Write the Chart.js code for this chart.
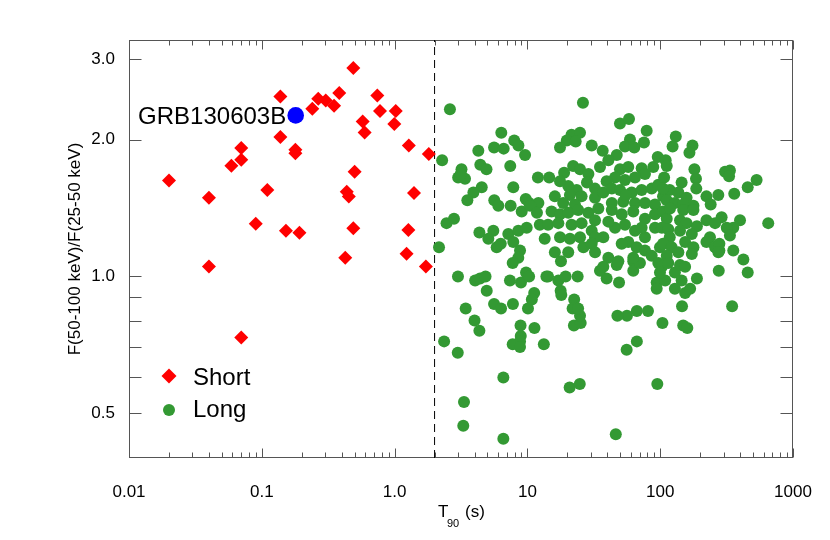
<!DOCTYPE html>
<html>
<head>
<meta charset="utf-8">
<script src="https://cdn.jsdelivr.net/npm/chart.js@4.4.1/dist/chart.umd.min.js"></script>
<style>
  html, body { margin: 0; padding: 0; background: #fff; }
</style>
</head>
<body>
<canvas id="graf" width="830" height="540"></canvas>
<script>
// short bursts (red diamonds)
const shortT90 = [0.02, 0.04, 0.04, 0.059, 0.07, 0.07, 0.07, 0.09, 0.11, 0.138,
  0.138, 0.152, 0.179, 0.179, 0.192, 0.24, 0.266, 0.303, 0.35, 0.383,
  0.489, 0.50, 0.436, 0.452, 0.489, 0.425, 0.575, 0.595, 0.741, 0.776,
  1.02, 0.995, 1.28, 1.81, 1.40, 1.27, 1.23, 1.72];
const shortRatio = [1.625, 1.49, 1.052, 1.751, 1.805, 1.915, 0.734, 1.306, 1.549, 2.486,
  2.025, 1.26, 1.899, 1.867, 1.247, 2.337, 2.458, 2.437, 2.372, 2.53,
  2.871, 1.70, 1.535, 1.499, 1.277, 1.099, 2.192, 2.073, 2.50, 2.31,
  2.31, 2.163, 1.94, 1.858, 1.525, 1.266, 1.122, 1.052];

// long bursts (green circles)
const longT90 = [2.61, 26.2, 49.8, 58.2, 79.1, 6.36, 21.5, 24.9, 19.8, 23.1,
  17.6, 30.5, 36.9, 59.2, 75.5, 54.3, 63.8, 47.1, 40.7, 131,
  124, 175, 166, 95.8, 110, 5.61, 6.63, 7.96, 8.56, 9.6,
  4.27, 2.28, 4.42, 4.92, 7.43, 3.19, 3.01, 3.39, 3.15, 4.53,
  3.92, 3.53, 7.83, 12.0, 14.6, 5.63, 6.04, 7.48, 9.72, 10.3,
  12.1, 35.2, 22.1, 24.9, 18.9, 49.8, 57.5, 72.5, 88.7, 76.8,
  64.6, 54.3, 45.7, 39.5, 28.8, 28.1, 23.5, 20.3, 17.6, 20.9,
  25.6, 32.3, 32.3, 37.3, 43.2, 49.8, 61.0, 72.5, 86.3, 96.8,
  105, 52.7, 64.6, 76.8, 91.4, 43.2, 22.8, 18.6, 16.1, 112,
  181, 186, 187, 308, 335, 330, 532, 456, 107, 145,
  118, 105, 137, 158, 274, 223, 240, 112, 129, 178,
  149, 361, 290, 399, 355, 317, 651, 2.46, 2.80, 2.16,
  4.35, 5.54, 5.08, 5.87, 6.30, 7.18, 7.83, 8.54, 9.88, 8.8,
  8.54, 7.75, 9.06, 10.5, 11.8, 12.4, 13.5, 3.0, 4.04, 4.40,
  4.84, 4.94, 7.39, 8.95, 9.77, 10.3, 13.9, 11.25, 10.8, 10.1,
  5.61, 6.33, 7.78, 3.43, 4.0, 4.35, 8.88, 11.3, 2.36, 2.99,
  6.59, 3.33, 3.29, 6.59, 8.91, 8.8, 7.75, 8.8, 13.3, 22.4,
  25.2, 20.8, 24.8, 55.9, 66.7, 46.3, 95.1, 104, 149, 160,
  276, 456, 348, 423, 355, 279, 189, 146, 129, 145,
  129, 154, 168, 94.1, 94.1, 109, 80.9, 66.7, 56.2, 47.6,
  49.0, 39.5, 35.2, 47.1, 62.7, 62.7, 70.4, 24.9, 22.5, 21.9,
  17.8, 18.0, 17.1, 19.4, 23.9, 15.2, 17.6, 20.3, 24.1, 28.8,
  34.2, 43.2, 51.3, 62.7, 76.8, 91.4, 105, 14.3, 17.1, 21.5,
  25.6, 30.5, 37.3, 45.7, 54.3, 64.6, 76.8, 91.4, 17.6, 20.9,
  24.9, 32.3, 57.5, 66.5, 76.8, 99.6, 16.1, 20.3, 26.4, 32.3,
  40.7, 37.3, 62.7, 86.3, 96.8, 17.9, 14.3, 24.1, 149, 178,
  141, 112, 103, 115, 158, 189, 223, 259, 335, 237,
  173, 154, 118, 105, 122, 178, 223, 259, 137, 112,
  103, 115, 141, 173, 154, 99.6, 279, 55.0, 118.5, 32.3,
  40.7, 72.5, 141, 30.5, 51.3, 48.4, 274];
const longRatio = [2.33, 2.41, 2.17, 2.22, 2.09, 2.07, 2.05, 2.07, 1.99, 1.98,
  1.92, 1.94, 1.89, 2.00, 1.97, 1.93, 1.92, 1.85, 1.80, 2.03,
  1.93, 1.94, 1.87, 1.83, 1.80, 1.92, 1.91, 1.99, 1.94, 1.85,
  1.89, 1.80, 1.76, 1.72, 1.75, 1.72, 1.65, 1.64, 1.68, 1.57,
  1.53, 1.47, 1.57, 1.65, 1.65, 1.47, 1.43, 1.43, 1.48, 1.45,
  1.45, 1.74, 1.75, 1.72, 1.69, 1.72, 1.74, 1.73, 1.74, 1.68,
  1.65, 1.63, 1.65, 1.62, 1.68, 1.61, 1.55, 1.58, 1.62, 1.51,
  1.50, 1.56, 1.49, 1.53, 1.56, 1.55, 1.53, 1.55, 1.56, 1.59,
  1.50, 1.46, 1.45, 1.45, 1.44, 1.45, 1.44, 1.45, 1.50, 1.75,
  1.72, 1.64, 1.56, 1.70, 1.71, 1.66, 1.63, 1.57, 1.65, 1.61,
  1.55, 1.56, 1.53, 1.49, 1.51, 1.50, 1.44, 1.47, 1.45, 1.43,
  1.44, 1.52, 1.35, 1.33, 1.28, 1.28, 1.31, 1.31, 1.34, 1.16,
  1.25, 1.26, 1.21, 1.16, 1.18, 1.24, 1.19, 1.26, 1.28, 1.14,
  1.10, 1.07, 1.39, 1.43, 1.38, 1.30, 1.21, 1.00, 0.98, 0.99,
  1.00, 0.93, 0.98, 0.97, 1.02, 1.00, 1.00, 0.92, 0.89, 0.85,
  0.87, 0.85, 0.87, 0.85, 0.80, 0.76, 0.78, 0.77, 0.72, 0.68,
  0.60, 0.53, 0.47, 0.44, 0.74, 0.72, 0.71, 0.70, 0.71, 0.78,
  0.79, 0.57, 0.58, 0.69, 0.72, 0.45, 0.58, 0.79, 0.78, 0.77,
  1.03, 1.02, 0.86, 1.09, 1.14, 1.14, 0.99, 0.86, 1.02, 0.98,
  0.94, 0.92, 0.94, 0.97, 0.94, 0.98, 0.84, 0.84, 0.82, 0.82,
  0.97, 0.99, 1.03, 1.06, 1.08, 1.03, 1.07, 0.82, 0.89, 0.85,
  0.93, 0.91, 0.98, 1.00, 1.00, 1.39, 1.37, 1.38, 1.40, 1.38,
  1.41, 1.40, 1.37, 1.39, 1.34, 1.37, 1.39, 1.30, 1.31, 1.30,
  1.31, 1.26, 1.22, 1.28, 1.30, 1.26, 1.22, 1.28, 1.22, 1.21,
  1.22, 1.22, 1.19, 1.16, 1.14, 1.16, 1.13, 1.13, 1.16, 1.13,
  1.10, 1.05, 1.10, 1.11, 1.07, 1.08, 1.00, 0.85, 1.40, 1.40,
  1.33, 1.34, 1.28, 1.27, 1.31, 1.29, 1.33, 1.31, 1.23, 1.22,
  1.24, 1.19, 1.22, 1.18, 1.16, 1.16, 1.19, 1.16, 1.13, 1.11,
  1.05, 1.07, 1.06, 1.12, 1.05, 1.02, 1.18, 1.51, 1.41, 1.33,
  1.32, 1.28, 1.26, 1.18, 1.18, 1.08, 1.13];

// the highlighted burst
const grbName = 'GRB130603B';
const grbT90 = [0.18];
const grbRatio = [2.26];

// short / long divide
const t90Cut = 2;

const xTicks = [0.01, 0.1, 1, 10, 100, 1000];
const xTickLabels = ['0.01', '0.1', '1.0', '10', '100', '1000'];
const yTicks = [0.5, 1, 2, 3];
const yTickLabels = ['0.5', '1.0', '2.0', '3.0'];
const yMinorTicks = [0.6, 0.7, 0.8, 0.9];
const yMin = 0.399, yMax = 3.31;

const FONT = "'Liberation Sans', Arial, Helvetica, sans-serif";
const RED = '#ff0000';
const GREEN = '#339933';
const BLUE = '#0000ff';
const AXIS = '#555555';

const toPts = (xs, ys) => xs.map((x, i) => ({ x: x, y: ys[i] }));

// IDL style box: inward ticks on all four sides, legend, titles
const boxPlugin = {
  id: 'box',
  beforeDatasetsDraw(chart) {
    const { ctx, chartArea: a, scales: { x, y } } = chart;
    const L = Math.round(a.left) + 0.5, R = Math.round(a.right) - 0.5;
    const T = Math.round(a.top) + 0.5, B = Math.round(a.bottom) - 0.5;
    ctx.save();
    ctx.strokeStyle = AXIS;
    ctx.lineWidth = 1;
    ctx.strokeRect(L, T, R - L, B - T);
    ctx.beginPath();
    for (let e = -2; e <= 3; e++) {
      for (let m = 1; m <= 9; m++) {
        const v = m * Math.pow(10, e);
        if (v > 1000) break;
        const px = Math.round(x.getPixelForValue(v)) + 0.5;
        const len = m === 1 ? 9 : 5;
        ctx.moveTo(px, B); ctx.lineTo(px, B - len);
        ctx.moveTo(px, T); ctx.lineTo(px, T + len);
      }
    }
    yTicks.concat(yMinorTicks).forEach(v => {
      const py = Math.round(y.getPixelForValue(v)) + 0.5;
      ctx.moveTo(L, py); ctx.lineTo(L + 12, py);
      ctx.moveTo(R, py); ctx.lineTo(R - 12, py);
    });
    ctx.stroke();
    ctx.restore();
  },
  afterDatasetsDraw(chart) {
    const { ctx, chartArea: a, scales: { x, y } } = chart;
    ctx.save();
    ctx.fillStyle = '#000';

    // burst label
    const gx = x.getPixelForValue(grbT90[0]);
    const gy = y.getPixelForValue(grbRatio[0]);
    ctx.font = '24px ' + FONT;
    ctx.textAlign = 'right';
    ctx.textBaseline = 'alphabetic';
    ctx.fillText(grbName, gx - 9.5, gy + 9);

    // legend
    ctx.fillStyle = RED;
    ctx.beginPath();
    ctx.moveTo(169, 376 - 7.5); ctx.lineTo(176.5, 376);
    ctx.lineTo(169, 376 + 7.5); ctx.lineTo(161.5, 376);
    ctx.closePath(); ctx.fill();
    ctx.fillStyle = GREEN;
    ctx.beginPath(); ctx.arc(169, 410, 6, 0, Math.PI * 2); ctx.fill();
    ctx.fillStyle = '#000';
    ctx.textAlign = 'left';
    ctx.font = '24px ' + FONT;
    ctx.fillText('Short', 193, 385);
    ctx.fillText('Long', 193, 417);

    // y title
    ctx.font = '17px ' + FONT;
    ctx.save();
    ctx.translate(75, (a.top + a.bottom) / 2);
    ctx.rotate(-Math.PI / 2);
    ctx.textAlign = 'center';
    ctx.textBaseline = 'middle';
    ctx.fillText('F(50-100 keV)/F(25-50 keV)', 0, 0);
    ctx.restore();

    // x title with subscript
    const cx = (a.left + a.right) / 2;
    ctx.textAlign = 'left';
    ctx.textBaseline = 'alphabetic';
    ctx.font = '17px ' + FONT;
    ctx.fillText('T', cx - 23, 517);
    ctx.font = '11px ' + FONT;
    ctx.fillText('90', cx - 14, 527);
    ctx.font = '17px ' + FONT;
    ctx.fillText('(s)', cx + 4, 517);
    ctx.restore();
  }
};

const ctx = document.getElementById('graf').getContext('2d');

const config = {
  type: 'scatter',
  data: {
    datasets: [
      {
        label: grbName,
        data: toPts(grbT90, grbRatio),
        pointStyle: 'circle',
        pointRadius: 8.3,
        backgroundColor: BLUE,
        borderWidth: 0,
      },
      {
        label: 'Long',
        data: toPts(longT90, longRatio),
        pointStyle: 'circle',
        pointRadius: 6,
        backgroundColor: GREEN,
        borderWidth: 0,
      },
      {
        label: 'Short',
        data: toPts(shortT90, shortRatio),
        pointStyle: 'rectRot',
        pointRadius: 7,
        backgroundColor: RED,
        borderWidth: 0,
      },
      {
        label: 'cut',
        data: [{ x: t90Cut, y: yMin }, { x: t90Cut, y: yMax }],
        showLine: true,
        borderColor: '#000',
        borderWidth: 1,
        borderDash: [8, 5],
        pointRadius: 0,
      },
    ],
  },
  options: {
    responsive: false,
    animation: false,
    events: [],
    layout: { padding: { top: 40, right: 37, left: 0, bottom: 0 } },
    plugins: {
      legend: { display: false },
      tooltip: { enabled: false },
    },
    scales: {
      x: {
        type: 'logarithmic',
        min: 0.01,
        max: 1000,
        bounds: 'data',
        grid: { display: false },
        border: { display: false },
        afterBuildTicks: (s) => { s.ticks = xTicks.map(v => ({ value: v })); },
        afterFit: (s) => { s.height = 82; },
        ticks: {
          autoSkip: false,
          maxRotation: 0,
          padding: 16,
          color: '#000',
          font: { family: FONT, size: 17 },
          callback: (v, i) => xTickLabels[i],
        },
      },
      y: {
        type: 'logarithmic',
        min: yMin,
        max: yMax,
        bounds: 'data',
        grid: { display: false },
        border: { display: false },
        afterBuildTicks: (s) => { s.ticks = yTicks.map(v => ({ value: v })); },
        afterFit: (s) => { s.width = 129; },
        ticks: {
          autoSkip: false,
          padding: 6,
          color: '#000',
          font: { family: FONT, size: 17 },
          callback: (v, i) => yTickLabels[i],
        },
      },
    },
  },
  plugins: [boxPlugin],
};

const myChart = new Chart(ctx, config);
</script>
</body>
</html>
